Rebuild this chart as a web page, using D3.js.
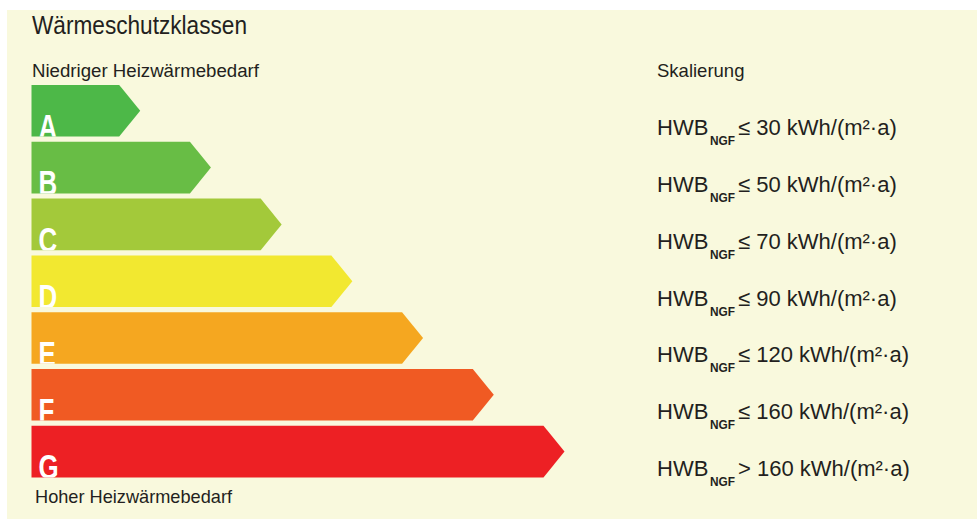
<!DOCTYPE html>
<html lang="de">
<head>
<meta charset="utf-8">
<title>Wärmeschutzklassen</title>
<script src="https://cdn.jsdelivr.net/npm/d3@7"></script>
<style>
  html, body { margin: 0; padding: 0; background: #ffffff; }
  svg { display: block; }
  text { font-family: "Liberation Sans", Arial, sans-serif; fill: #231f20; }
</style>
</head>
<body>
<svg id="chart" width="977" height="519"></svg>
<script>
// Energy classes, top (lowest heating demand) to bottom (highest)
const classes = ["A", "B", "C", "D", "E", "F", "G"];
// Bar length is the class rank
const classRank = [1, 2, 3, 4, 5, 6, 7];
// Heating demand limits HWB_NGF in kWh/(m²·a)
const limitOps = ["≤", "≤", "≤", "≤", "≤", "≤", ">"];
const limitValues = [30, 50, 70, 90, 120, 160, 160];
const classColors = ["#4db848", "#68bd45", "#a3c93a", "#f2e830", "#f5a720", "#f05a23", "#ed2024"];

const svg = d3.select("#chart");

// Panel background
svg.append("rect")
  .attr("x", 7).attr("y", 10)
  .attr("width", 970).attr("height", 509)
  .attr("fill", "#f9f9dd");

const y = d3.scaleBand()
  .domain(classes)
  .range([85, 477.4])
  .paddingInner(0.0915)
  .paddingOuter(0);

const x = d3.scaleLinear()
  .domain([0, 7])
  .range([48.5, 543.5]);

const barLeft = 31.5;
const tip = 21;

const rows = classes.map((c, i) => ({
  cls: c, rank: classRank[i], op: limitOps[i], value: limitValues[i], color: classColors[i]
}));

function arrowPath(d) {
  const top = y(d.cls), h = y.bandwidth(), end = x(d.rank);
  return `M${barLeft},${top}H${end}L${end + tip},${top + h / 2}L${end},${top + h}H${barLeft}Z`;
}

const defs = svg.append("defs");
defs.selectAll("clipPath")
  .data(rows)
  .join("clipPath")
  .attr("id", d => "clip-" + d.cls)
  .append("path")
  .attr("d", arrowPath);

// Arrow bars
const bars = svg.append("g").selectAll("g")
  .data(rows)
  .join("g");

bars.append("path")
  .attr("d", arrowPath)
  .attr("fill", d => d.color);

// Class letters in a condensed cut, sitting on the lower bar edge
bars.append("g")
  .attr("clip-path", d => `url(#clip-${d.cls})`)
  .append("text")
  .attr("transform", d => `translate(38.5,${y(d.cls) + y.bandwidth() + 2}) scale(0.74,1)`)
  .attr("font-size", 35)
  .attr("font-weight", "bold")
  .style("fill", "#ffffff")
  .text(d => d.cls);

// Headings
svg.append("text")
  .attr("x", 32).attr("y", 34)
  .attr("font-size", 25)
  .attr("textLength", 215).attr("lengthAdjust", "spacingAndGlyphs")
  .text("Wärmeschutzklassen");

svg.append("text")
  .attr("x", 32).attr("y", 76.5)
  .attr("font-size", 18)
  .attr("textLength", 227).attr("lengthAdjust", "spacingAndGlyphs")
  .text("Niedriger Heizwärmebedarf");

svg.append("text")
  .attr("x", 35).attr("y", 503)
  .attr("font-size", 19)
  .attr("textLength", 197).attr("lengthAdjust", "spacingAndGlyphs")
  .text("Hoher Heizwärmebedarf");

svg.append("text")
  .attr("x", 657).attr("y", 77)
  .attr("font-size", 18.5)
  .text("Skalierung");

// Scale labels per class
const labels = svg.append("g").selectAll("g")
  .data(rows)
  .join("g")
  .attr("transform", d => `translate(0,${y(d.cls) + y.bandwidth() - 1.5})`);

labels.append("text")
  .attr("x", 657)
  .attr("font-size", 22)
  .text("HWB");

labels.append("text")
  .attr("x", 710).attr("y", 10)
  .attr("font-size", 12)
  .attr("font-weight", "bold")
  .attr("textLength", 25).attr("lengthAdjust", "spacingAndGlyphs")
  .text("NGF");

labels.append("text")
  .attr("x", 738)
  .attr("font-size", 22)
  .text(d => `${d.op} ${d.value} kWh/(m²·a)`);
</script>
</body>
</html>
